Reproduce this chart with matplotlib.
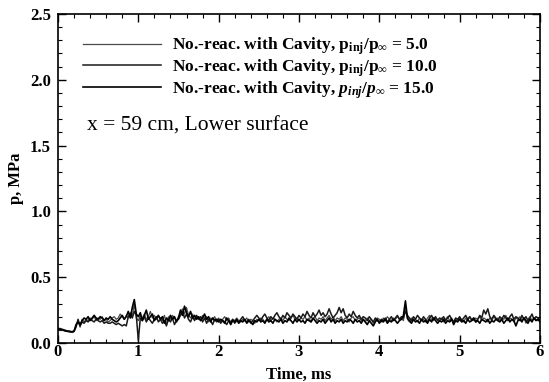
import numpy as np
import matplotlib
matplotlib.use("Agg")
import matplotlib.pyplot as plt
from matplotlib.ticker import MultipleLocator, FormatStrFormatter

plt.rcParams["font.family"] = ["Liberation Serif", "DejaVu Serif"]
plt.rcParams["mathtext.fontset"] = "custom"
plt.rcParams["mathtext.rm"] = "Liberation Serif:bold"
plt.rcParams["mathtext.it"] = "Liberation Serif:italic:bold"

# time grid (ms), values every 0.025 ms
t_ms = np.linspace(0.0, 6.0, 241)

p_5 = [
    0.10, 0.10, 0.10, 0.095, 0.09, 0.085, 0.085, 0.08, 0.085, 0.13,
    0.17, 0.12, 0.18, 0.16, 0.18, 0.17, 0.19, 0.18, 0.20, 0.17,
    0.19, 0.18, 0.20, 0.17, 0.18, 0.16, 0.17, 0.19, 0.20, 0.18,
    0.19, 0.22, 0.20, 0.18, 0.21, 0.19, 0.23, 0.20, 0.30, 0.19,
    0.17, 0.21, 0.19, 0.22, 0.18, 0.20, 0.24, 0.19, 0.21, 0.18,
    0.20, 0.19, 0.17, 0.21, 0.14, 0.20, 0.18, 0.21, 0.19, 0.17,
    0.20, 0.23, 0.26, 0.22, 0.27, 0.21, 0.19, 0.22, 0.18, 0.20,
    0.19, 0.17, 0.21, 0.18, 0.20, 0.16, 0.19, 0.18, 0.20, 0.17,
    0.19, 0.16, 0.18, 0.20, 0.17, 0.19, 0.15, 0.18, 0.17, 0.19,
    0.17, 0.16, 0.18, 0.17, 0.19, 0.16, 0.18, 0.17, 0.15, 0.18,
    0.17, 0.19, 0.18, 0.16, 0.18, 0.20, 0.17, 0.19, 0.18, 0.16,
    0.18, 0.19, 0.17, 0.20, 0.18, 0.17, 0.19, 0.21, 0.18, 0.19,
    0.17, 0.19, 0.18, 0.20, 0.17, 0.19, 0.16, 0.18, 0.20, 0.17,
    0.19, 0.18, 0.20, 0.17, 0.19, 0.21, 0.18, 0.20, 0.17, 0.19,
    0.18, 0.20, 0.17, 0.19, 0.18, 0.16, 0.19, 0.20, 0.17, 0.18,
    0.19, 0.17, 0.18, 0.16, 0.19, 0.17, 0.18, 0.15, 0.17, 0.19,
    0.18, 0.16, 0.19, 0.17, 0.20, 0.18, 0.17, 0.19, 0.18, 0.20,
    0.18, 0.19, 0.17, 0.28, 0.18, 0.16, 0.19, 0.17, 0.18, 0.16,
    0.19, 0.17, 0.18, 0.16, 0.19, 0.21, 0.18, 0.17, 0.19, 0.18,
    0.17, 0.19, 0.16, 0.18, 0.20, 0.17, 0.19, 0.16, 0.18, 0.17,
    0.19, 0.18, 0.16, 0.19, 0.17, 0.20, 0.18, 0.17, 0.19, 0.18,
    0.20, 0.17, 0.19, 0.18, 0.16, 0.19, 0.17, 0.20, 0.18, 0.19,
    0.17, 0.19, 0.18, 0.21, 0.17, 0.19, 0.18, 0.16, 0.19, 0.18,
    0.20, 0.17, 0.19, 0.15, 0.18, 0.20, 0.17, 0.19, 0.18, 0.17,
    0.18,
]

p_10 = [
    0.11, 0.11, 0.105, 0.10, 0.095, 0.09, 0.09, 0.085, 0.09, 0.12,
    0.18, 0.13, 0.16, 0.15, 0.17, 0.16, 0.18, 0.17, 0.16, 0.18,
    0.17, 0.16, 0.17, 0.15, 0.16, 0.15, 0.15, 0.16, 0.15, 0.14,
    0.15, 0.14, 0.13, 0.14, 0.13, 0.20, 0.22, 0.19, 0.24, 0.21,
    0.02, 0.19, 0.17, 0.20, 0.16, 0.19, 0.17, 0.15, 0.18, 0.20,
    0.16, 0.18, 0.15, 0.17, 0.13, 0.18, 0.16, 0.19, 0.14, 0.17,
    0.18, 0.21, 0.24, 0.19, 0.22, 0.18, 0.16, 0.20, 0.17, 0.21,
    0.18, 0.20, 0.16, 0.19, 0.15, 0.18, 0.17, 0.14, 0.18, 0.16,
    0.18, 0.15, 0.17, 0.16, 0.14, 0.17, 0.16, 0.18, 0.15, 0.17,
    0.16, 0.18, 0.20, 0.17, 0.16, 0.18, 0.15, 0.17, 0.19, 0.21,
    0.19, 0.17, 0.20, 0.22, 0.19, 0.17, 0.20, 0.18, 0.21, 0.23,
    0.20, 0.18, 0.21, 0.19, 0.23, 0.21, 0.19, 0.22, 0.20, 0.18,
    0.21, 0.19, 0.22, 0.20, 0.24, 0.21, 0.19, 0.23, 0.20, 0.22,
    0.25, 0.21, 0.23, 0.20, 0.22, 0.26, 0.22, 0.19, 0.21, 0.23,
    0.27, 0.23, 0.26, 0.21, 0.19, 0.22, 0.20, 0.24, 0.21, 0.19,
    0.21, 0.18, 0.20, 0.19, 0.17, 0.20, 0.18, 0.16, 0.19, 0.17,
    0.16, 0.18, 0.17, 0.19, 0.16, 0.18, 0.20, 0.17, 0.19, 0.21,
    0.18, 0.20, 0.19, 0.24, 0.21, 0.19, 0.17, 0.20, 0.18, 0.21,
    0.19, 0.17, 0.20, 0.18, 0.16, 0.19, 0.21, 0.18, 0.20, 0.17,
    0.19, 0.18, 0.20, 0.17, 0.19, 0.21, 0.18, 0.16, 0.19, 0.18,
    0.20, 0.17, 0.19, 0.21, 0.18, 0.20, 0.17, 0.19, 0.16, 0.18,
    0.21, 0.19, 0.25, 0.22, 0.26, 0.20, 0.18, 0.21, 0.19, 0.17,
    0.20, 0.18, 0.21, 0.19, 0.17, 0.20, 0.22, 0.18, 0.20, 0.19,
    0.17, 0.21, 0.18, 0.20, 0.17, 0.19, 0.22, 0.18, 0.20, 0.19,
    0.17,
]

p_15 = [
    0.10, 0.105, 0.10, 0.095, 0.09, 0.09, 0.085, 0.085, 0.09, 0.14,
    0.16, 0.14, 0.17, 0.19, 0.18, 0.20, 0.17, 0.19, 0.21, 0.19,
    0.18, 0.20, 0.19, 0.17, 0.19, 0.18, 0.20, 0.18, 0.17, 0.16,
    0.17, 0.19, 0.21, 0.18, 0.20, 0.24, 0.19, 0.27, 0.33, 0.22,
    0.20, 0.23, 0.17, 0.21, 0.25, 0.18, 0.20, 0.22, 0.17, 0.19,
    0.21, 0.18, 0.20, 0.15, 0.19, 0.17, 0.21, 0.18, 0.20, 0.16,
    0.19, 0.25, 0.21, 0.28, 0.23, 0.20, 0.24, 0.19, 0.21, 0.18,
    0.20, 0.17, 0.19, 0.22, 0.18, 0.20, 0.16, 0.19, 0.17, 0.18,
    0.16, 0.18, 0.17, 0.15, 0.19, 0.17, 0.14, 0.17, 0.16, 0.18,
    0.15, 0.17, 0.16, 0.18, 0.15, 0.17, 0.16, 0.14, 0.17, 0.16,
    0.18, 0.16, 0.17, 0.15, 0.18, 0.16, 0.17, 0.15, 0.18, 0.17,
    0.16, 0.18, 0.15, 0.17, 0.16, 0.19, 0.17, 0.15, 0.18, 0.16,
    0.18, 0.16, 0.17, 0.15, 0.18, 0.17, 0.16, 0.19, 0.17, 0.15,
    0.17, 0.16, 0.18, 0.15, 0.17, 0.19, 0.16, 0.18, 0.15, 0.17,
    0.16, 0.18, 0.15, 0.17, 0.16, 0.18, 0.17, 0.15, 0.18, 0.16,
    0.17, 0.15, 0.18, 0.16, 0.14, 0.17, 0.15, 0.13, 0.16, 0.18,
    0.15, 0.17, 0.16, 0.18, 0.15, 0.17, 0.16, 0.18, 0.17, 0.15,
    0.17, 0.18, 0.21, 0.32, 0.19, 0.17, 0.15, 0.18, 0.16, 0.17,
    0.15, 0.18, 0.16, 0.17, 0.15, 0.18, 0.16, 0.19, 0.17, 0.15,
    0.17, 0.16, 0.18, 0.15, 0.17, 0.16, 0.18, 0.14, 0.17, 0.16,
    0.18, 0.16, 0.17, 0.15, 0.18, 0.16, 0.17, 0.19, 0.16, 0.17,
    0.15, 0.18, 0.17, 0.16, 0.18, 0.15, 0.17, 0.16, 0.18, 0.17,
    0.16, 0.18, 0.15, 0.17, 0.19, 0.16, 0.18, 0.17, 0.13, 0.17,
    0.18, 0.16, 0.19, 0.17, 0.15, 0.18, 0.16, 0.19, 0.17, 0.18,
    0.16,
]

labels = [
    r"No.-reac. with Cavity, $\mathrm{p_{inj}/p_{\infty}}$ = 5.0",
    r"No.-reac. with Cavity, $\mathrm{p_{inj}/p_{\infty}}$ = 10.0",
    r"No.-reac. with Cavity, $p_{inj}/p_{\infty}$ = 15.0",
]

fig = plt.figure(figsize=(5.49, 3.82), dpi=100)
ax = fig.add_axes([0.1056, 0.1021, 0.878, 0.8613])

for p, lab, c, lw in [(p_5, labels[0], "#4a4a4a", 0.9),
                      (p_10, labels[1], "#1a1a1a", 1.1),
                      (p_15, labels[2], "black", 1.2)]:
    ax.plot(t_ms, p, color=c, lw=lw, label=lab)

ax.legend(loc="upper left", bbox_to_anchor=(0.038, 0.955), frameon=False,
          prop={"size": 12.5, "weight": "bold"}, handlelength=4.5,
          handletextpad=0.63, labelspacing=0.0, borderaxespad=0)
ax.text(0.06, 0.66, "x = 59 cm, Lower surface", transform=ax.transAxes,
        fontsize=15.5, va="center", ha="left")

ax.set_xlim(0, 6)
ax.set_ylim(0, 2.5)
ax.xaxis.set_major_locator(MultipleLocator(1))
ax.xaxis.set_minor_locator(MultipleLocator(0.2))
ax.yaxis.set_major_locator(MultipleLocator(0.5))
ax.yaxis.set_minor_locator(MultipleLocator(0.1))
ax.yaxis.set_major_formatter(FormatStrFormatter("%.1f"))
ax.tick_params(which="both", direction="in", top=True, right=True)
ax.tick_params(which="major", length=6, width=1.0, labelsize=12)
ax.tick_params(axis="x", which="major", pad=1)
ax.tick_params(axis="y", which="major", pad=5)
ax.tick_params(which="minor", length=3, width=0.8)
for lbl in ax.get_xticklabels() + ax.get_yticklabels():
    lbl.set_fontweight("bold")
for s in ax.spines.values():
    s.set_linewidth(1.2)

ax.set_xlabel("Time, ms", fontsize=12, fontweight="bold", labelpad=5)
ax.set_ylabel("p, MPa", fontsize=12, fontweight="bold", labelpad=4)

fig.savefig("out.png", dpi=100)
